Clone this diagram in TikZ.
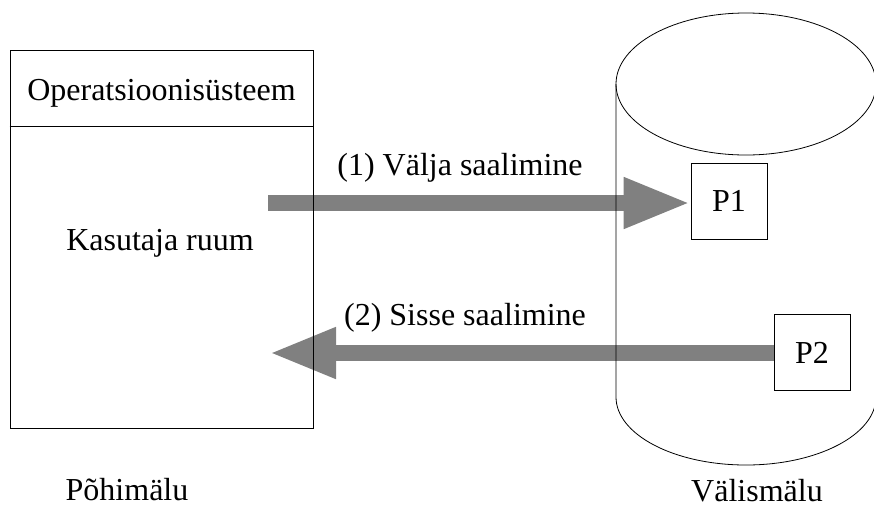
\documentclass[tikz,border=0pt]{standalone}
\usepackage{fontspec}
\setmainfont{Liberation Serif}
\usetikzlibrary{arrows.meta}
\definecolor{shaft}{RGB}{128,128,128}
\pgfdeclarelayer{bg}
\pgfsetlayers{bg,main}
\begin{document}
\begin{tikzpicture}[x=1pt,y=-1pt,
  outline/.style={draw=black,line width=0.8pt},
  lbl/.style={font=\fontsize{32}{38}\selectfont,inner sep=0pt,anchor=base},
  pbox/.style={outline,fill=white,minimum width=76pt,minimum height=76pt,inner sep=0pt,
    font=\fontsize{32}{38}\selectfont},
  transfer/.style={draw=shaft,line width=16pt,-{Triangle[length=67pt,width=47pt]}}]
\useasboundingbox (0,0) rectangle (874,507);
\clip (0,0) rectangle (874,507);

% main memory block with its header row
\node[outline,minimum width=303pt,minimum height=378pt,inner sep=0pt] (main) at (161.5,239) {};
\coordinate (hdr) at (0,126);
\draw[outline] (main.west |- hdr) -- (main.east |- hdr);
\node[lbl] (os) at (161.5,100) {Operatsioonisüsteem};
\node[lbl] (user) at (160,250) {Kasutaja ruum};
\node[lbl] (mainname) at (127,500) {Põhimälu};

% secondary storage drum
\draw[outline] (746,84) ellipse [x radius=130pt, y radius=71pt];
\draw[outline] (616,84) -- (616,397) arc[start angle=180, end angle=360, x radius=130pt, y radius=68pt] -- (876,84);
\node[lbl] (extname) at (757,501) {Välismälu};

% pages on the drum
\node[pbox] (p1) at (729,201) {P1};
\node[pbox] (p2) at (812,352.5) {P2};

% swapping arrows
\coordinate (src1) at (268,203);
\coordinate (dst2) at (269,353);
\begin{pgfonlayer}{bg}
\draw[transfer] (src1) -- (p1.west |- src1);
\draw[transfer] (p2.west |- dst2) -- (dst2);
\end{pgfonlayer}
\node[lbl] (out) at (460,175) {(1) Välja saalimine};
\node[lbl] (in) at (465,325) {(2) Sisse saalimine};
\end{tikzpicture}
\end{document}
